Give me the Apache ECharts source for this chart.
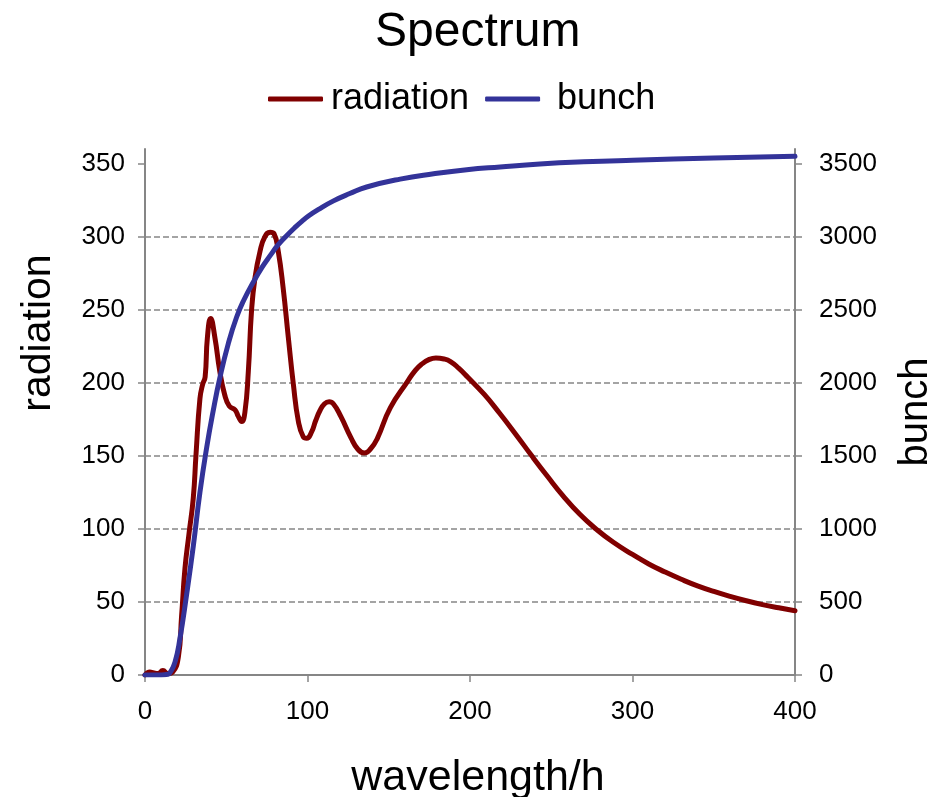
<!DOCTYPE html>
<html>
<head>
<meta charset="utf-8">
<title>Spectrum</title>
<script src="https://cdn.jsdelivr.net/npm/echarts@6/dist/echarts.min.js"></script>
<style>
  html, body { margin: 0; padding: 0; background: #ffffff; }
  #chart { width: 933px; height: 797px; }
</style>
</head>
<body>
<div id="chart"></div>
<script>
// wavelength/h sample positions and values of the radiation curve (left axis)
const radiationX = [0, 3, 5, 8, 11, 14, 17, 20.5, 22.5, 24.6, 27, 29.7, 31.4, 33.8, 35.5, 37, 38.4, 40.4,
  43, 46, 49, 51.9, 55.4, 57.4, 59.5, 61.5, 63.6, 65.6, 67.7, 70.8, 73.8, 77, 79.4, 82, 85, 88.2, 91.3,
  94.4, 97.4, 99.5, 102.6, 105, 107.7, 110.5, 113.3, 116, 120.5, 126.7, 131, 135, 139, 143, 151,
  161.6, 166, 170, 175, 179, 184, 188, 193, 198.5, 208.8, 218, 228, 238, 248, 257, 267.6, 278, 288,
  300, 310, 320, 330, 340, 350, 360, 370, 380, 390, 400];
const radiationY = [0, 2, 1.5, 1, 3, 1, 2, 12, 40, 73, 96, 121, 151, 189, 199, 204, 231, 244,
  231, 208, 192, 184, 181.5, 177, 173.5, 180, 208, 250, 272, 290, 300, 303, 302, 290, 265, 231, 199,
  173.5, 163, 162, 166.5, 174, 181, 185.6, 187, 185.5, 177, 162.5, 154.5, 152, 155, 162, 183,
  201, 208, 212.5, 216, 217, 216.3, 214.5, 210, 204, 192, 179.5, 165, 150, 135.5, 123, 110, 99.5, 91,
  82.5, 76, 70.5, 65.5, 61, 57.2, 53.8, 50.8, 48.2, 46, 44];

// wavelength/h sample positions and values of the bunch curve (right axis)
const bunchX = [0, 10, 14, 15.4, 18.5, 21.5, 25.6, 29.7, 33.8, 38, 42, 46, 51.3, 56.4, 61, 66.7, 72, 77,
  82, 87, 92, 96.5, 101, 106.5, 116, 126, 136.4, 157, 177.6, 198, 218.5, 243, 270, 300, 350, 400];
const bunchY = [0, 0, 5, 15, 90, 250, 550, 880, 1250, 1560, 1810, 2030, 2270, 2450, 2570, 2690, 2790, 2870,
  2945, 3005, 3060, 3105, 3145, 3185, 3245, 3295, 3340, 3394, 3430, 3458, 3477, 3497, 3512, 3523, 3538, 3550];

// tick values shown on each axis
const wavelengthTicks = [0, 100, 200, 300, 400];
const radiationTicks = [0, 50, 100, 150, 200, 250, 300, 350];
const bunchTicks = [0, 500, 1000, 1500, 2000, 2500, 3000, 3500];

const FONT = '"Liberation Sans", Arial, sans-serif';
const AXIS_GREY = '#868686';
const RED = '#800000';
const BLUE = '#333399';

const pairs = (xs, ys) => xs.map((x, i) => [x, ys[i]]);
const plain = (v) => String(v);

const axisLineStyle = { show: true, lineStyle: { color: AXIS_GREY, width: 2 } };
const tickStyle = { show: true, inside: false, length: 7, lineStyle: { color: AXIS_GREY, width: 1.5 } };
const gridLine = {
  show: true, showMinLine: false, showMaxLine: false,
  lineStyle: { color: AXIS_GREY, width: 1.5, type: [6, 3] }
};
const labelStyle = { color: '#000000', fontSize: 26, fontFamily: FONT, formatter: plain };

const chart = echarts.init(document.getElementById('chart'), null, { renderer: 'canvas' });

chart.setOption({
  animation: false,
  backgroundColor: '#ffffff',
  title: {
    text: 'Spectrum',
    left: 375,
    top: 9,
    padding: 0,
    textStyle: { color: '#000000', fontSize: 48, fontWeight: 'normal', fontFamily: FONT }
  },
  legend: {
    left: 268,
    top: 81,
    padding: 0,
    icon: 'roundRect',
    itemWidth: 55,
    itemHeight: 5,
    itemGap: 16,
    textStyle: { color: '#000000', fontSize: 36, fontFamily: FONT },
    data: [
      { name: 'radiation', textStyle: { padding: [0, 0, 0, 3] } },
      { name: 'bunch', textStyle: { padding: [0, 0, 0, 12] } }
    ]
  },
  grid: { left: 145, right: 138, top: 149, bottom: 122, outerBoundsMode: 'none' },
  xAxis: {
    type: 'value',
    min: 0,
    max: 400,
    interval: 100,
    name: 'wavelength/h',
    nameLocation: 'middle',
    nameGap: 82,
    nameTextStyle: { color: '#000000', fontSize: 43, fontFamily: FONT, padding: [0, 0, 0, 16] },
    axisLine: axisLineStyle,
    axisTick: Object.assign({}, tickStyle, { customValues: wavelengthTicks }),
    axisLabel: Object.assign({}, labelStyle, { margin: 24, customValues: wavelengthTicks }),
    splitLine: { show: false }
  },
  yAxis: [
    {
      type: 'value',
      position: 'left',
      min: 0,
      max: 360,
      interval: 50,
      name: 'radiation',
      nameLocation: 'middle',
      nameRotate: 90,
      nameGap: 86,
      nameTextStyle: { color: '#000000', fontSize: 41, fontFamily: FONT, padding: [0, 0, 0, 158] },
      axisLine: axisLineStyle,
      axisTick: Object.assign({}, tickStyle, { customValues: radiationTicks }),
      axisLabel: Object.assign({}, labelStyle, { margin: 20, customValues: radiationTicks }),
      splitLine: gridLine
    },
    {
      type: 'value',
      position: 'right',
      min: 0,
      max: 3600,
      interval: 500,
      name: 'bunch',
      nameLocation: 'middle',
      nameRotate: 90,
      nameGap: 101,
      nameTextStyle: { color: '#000000', fontSize: 40, fontFamily: FONT },
      axisLine: axisLineStyle,
      axisTick: Object.assign({}, tickStyle, { customValues: bunchTicks }),
      axisLabel: Object.assign({}, labelStyle, { margin: 24, customValues: bunchTicks }),
      splitLine: { show: false }
    }
  ],
  series: [
    {
      name: 'radiation',
      type: 'line',
      yAxisIndex: 0,
      data: pairs(radiationX, radiationY),
      showSymbol: false,
      symbol: 'none',
      smooth: 0.5,
      color: RED,
      lineStyle: { color: RED, width: 5, cap: 'round', join: 'round' },
      z: 2
    },
    {
      name: 'bunch',
      type: 'line',
      yAxisIndex: 1,
      data: pairs(bunchX, bunchY),
      showSymbol: false,
      symbol: 'none',
      smooth: 0.5,
      color: BLUE,
      lineStyle: { color: BLUE, width: 5, cap: 'round', join: 'round' },
      z: 3
    }
  ]
});
</script>
</body>
</html>
